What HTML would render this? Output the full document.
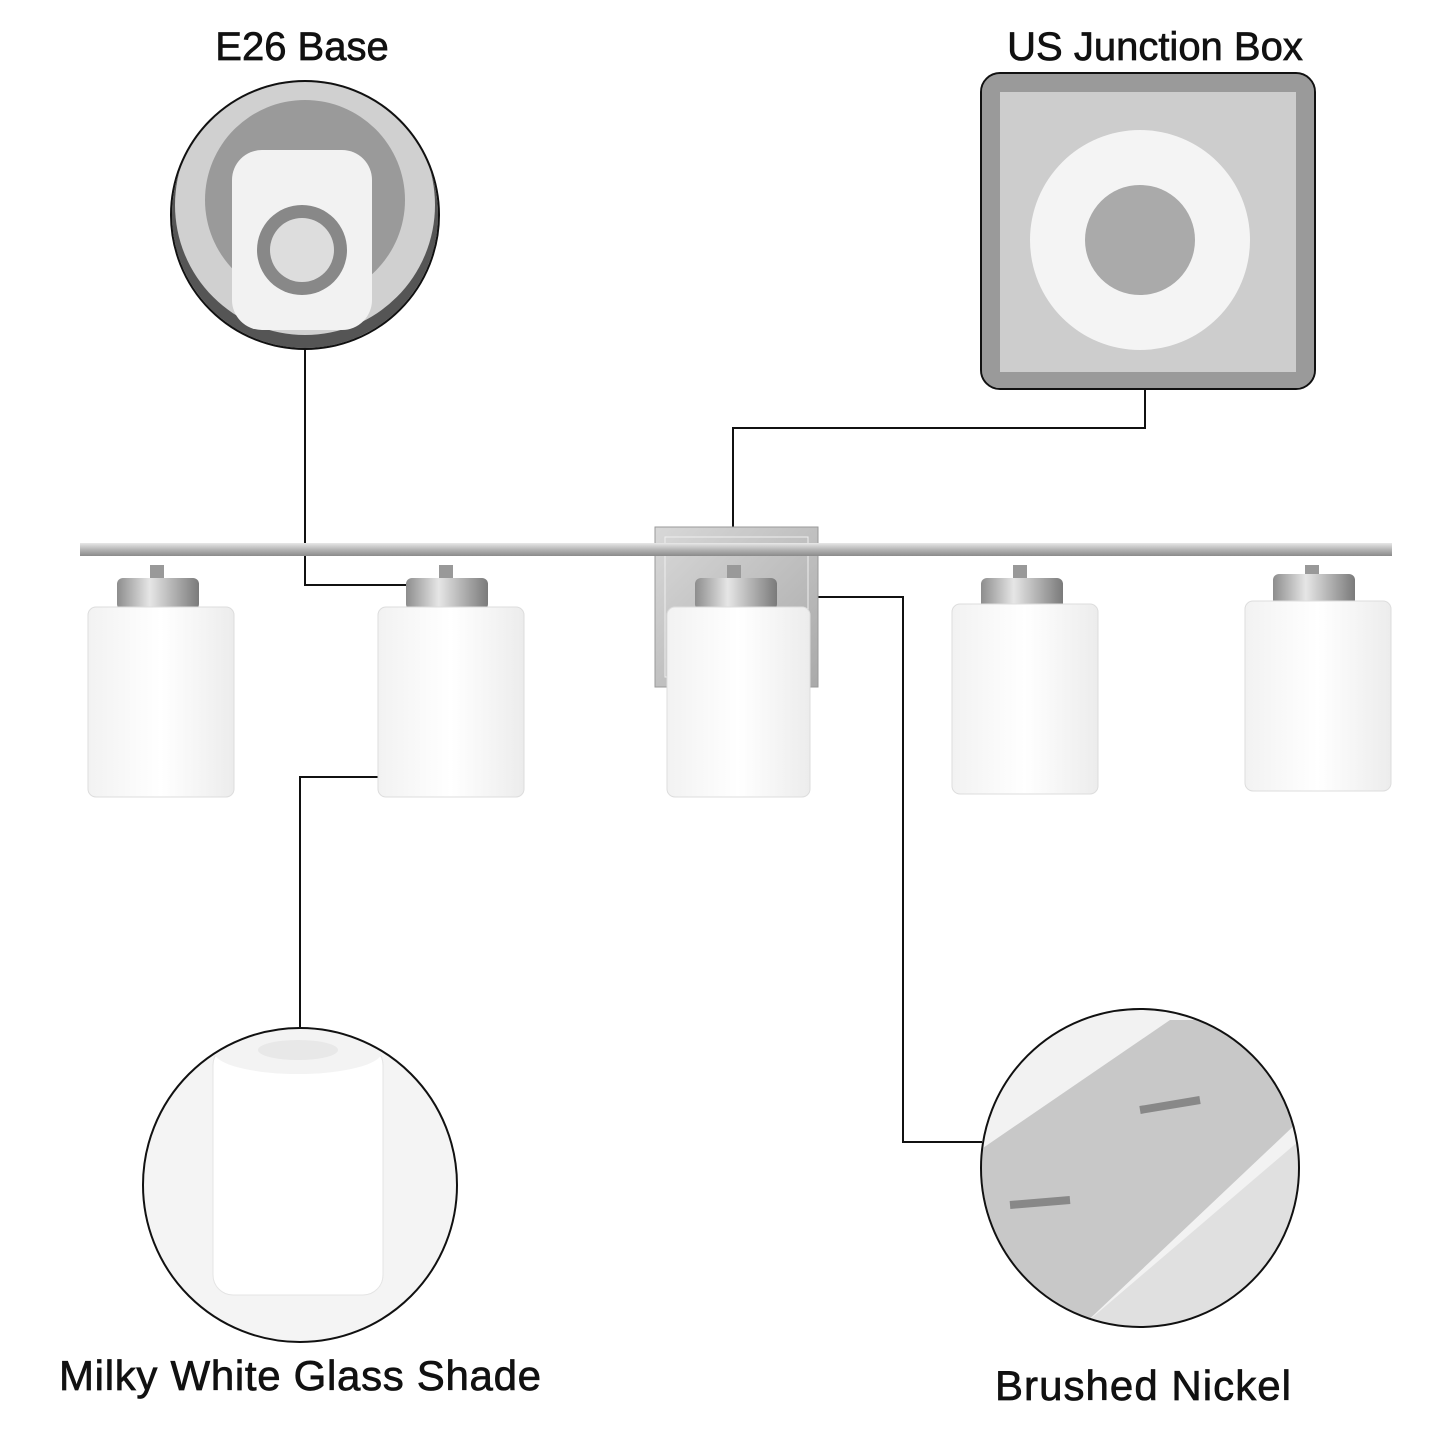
<!DOCTYPE html>
<html><head><meta charset="utf-8"><style>
html,body{margin:0;padding:0;background:#fff;}
svg{display:block}
text{font-family:"Liberation Sans",sans-serif;fill:#111;stroke:#111;stroke-width:0.7;}
</style></head><body>
<svg width="1445" height="1445" viewBox="0 0 1445 1445" xmlns="http://www.w3.org/2000/svg">
<defs>
<linearGradient id="metal" x1="0" y1="0" x2="0" y2="1">
<stop offset="0" stop-color="#e8e8e8"/><stop offset="0.5" stop-color="#b5b5b5"/><stop offset="1" stop-color="#8a8a8a"/></linearGradient>
<linearGradient id="metalh" x1="0" y1="0" x2="1" y2="0">
<stop offset="0" stop-color="#8d8d8d"/><stop offset="0.4" stop-color="#e6e6e6"/><stop offset="1" stop-color="#7a7a7a"/></linearGradient>
<linearGradient id="glass" x1="0" y1="0" x2="1" y2="0">
<stop offset="0" stop-color="#f2f2f2"/><stop offset="0.5" stop-color="#ffffff"/><stop offset="1" stop-color="#ececec"/></linearGradient>
<linearGradient id="plate" x1="0" y1="0" x2="1" y2="1">
<stop offset="0" stop-color="#d8d8d8"/><stop offset="1" stop-color="#a9a9a9"/></linearGradient>
<clipPath id="c1"><circle cx="305" cy="215" r="133"/></clipPath>
<clipPath id="c2"><circle cx="300" cy="1185" r="156"/></clipPath>
<clipPath id="c3"><circle cx="1140" cy="1168" r="158"/></clipPath>
<clipPath id="r2"><rect x="982" y="74" width="332" height="314" rx="18"/></clipPath>
</defs>

<text x="302" y="60" font-size="40" text-anchor="middle">E26 Base</text>
<text x="1155" y="60" font-size="40" text-anchor="middle">US Junction Box</text>
<text x="300" y="1390" font-size="42" text-anchor="middle" textLength="482">Milky White Glass Shade</text>
<text x="1143" y="1400" font-size="42" text-anchor="middle" textLength="296">Brushed Nickel</text>

<!-- E26 circle -->
<g clip-path="url(#c1)">
<rect x="170" y="80" width="270" height="270" fill="#555"/>
<circle cx="305" cy="205" r="130" fill="#d0d0d0"/>
<circle cx="305" cy="200" r="100" fill="#9a9a9a"/>
<rect x="232" y="150" width="140" height="180" rx="30" fill="#f2f2f2"/>
<circle cx="302" cy="250" r="45" fill="#888"/>
<circle cx="302" cy="250" r="32" fill="#ddd"/>
</g>
<circle cx="305" cy="215" r="134" fill="none" stroke="#111" stroke-width="2"/>

<!-- Junction box -->
<g clip-path="url(#r2)">
<rect x="982" y="74" width="332" height="314" fill="#9a9a9a"/>
<rect x="1000" y="92" width="296" height="280" fill="#cdcdcd"/>
<circle cx="1140" cy="240" r="110" fill="#f4f4f4"/>
<circle cx="1140" cy="240" r="55" fill="#aaa"/>
</g>
<rect x="981" y="73" width="334" height="316" rx="19" fill="none" stroke="#111" stroke-width="2"/>

<!-- connectors -->
<g stroke="#111" stroke-width="2" fill="none">
<polyline points="305,350 305,585 410,585"/>
<polyline points="1145,390 1145,428 733,428 733,527"/>
<polyline points="405,777 300,777 300,1027"/>
<polyline points="818,597 903,597 903,1142 982,1142"/>
</g>

<!-- backplate -->
<rect x="655" y="527" width="163" height="160" fill="url(#plate)" stroke="#999"/>
<rect x="665" y="537" width="143" height="140" fill="none" stroke="#eee"/>
<rect x="80" y="543" width="1312" height="13" fill="url(#metal)"/>

<g>
<rect x="150" y="565" width="14" height="15" fill="#999"/>
<rect x="117" y="578" width="82" height="32" rx="6" fill="url(#metalh)"/>
<rect x="88" y="607" width="146" height="190" rx="8" fill="url(#glass)" stroke="#ddd"/>
<rect x="439" y="565" width="14" height="15" fill="#999"/>
<rect x="406" y="578" width="82" height="32" rx="6" fill="url(#metalh)"/>
<rect x="378" y="607" width="146" height="190" rx="8" fill="url(#glass)" stroke="#ddd"/>
<rect x="727" y="565" width="14" height="15" fill="#999"/>
<rect x="695" y="578" width="82" height="32" rx="6" fill="url(#metalh)"/>
<rect x="667" y="607" width="143" height="190" rx="8" fill="url(#glass)" stroke="#ddd"/>
<rect x="1013" y="565" width="14" height="15" fill="#999"/>
<rect x="981" y="578" width="82" height="32" rx="6" fill="url(#metalh)"/>
<rect x="952" y="604" width="146" height="190" rx="8" fill="url(#glass)" stroke="#ddd"/>
<rect x="1305" y="565" width="14" height="15" fill="#999"/>
<rect x="1273" y="574" width="82" height="32" rx="6" fill="url(#metalh)"/>
<rect x="1245" y="601" width="146" height="190" rx="8" fill="url(#glass)" stroke="#ddd"/>
</g>

<!-- milky glass circle -->
<g clip-path="url(#c2)">
<rect x="140" y="1025" width="320" height="320" fill="#f4f4f4"/>
<rect x="213" y="1045" width="170" height="250" rx="20" fill="#ffffff" stroke="#e4e4e4"/>
<ellipse cx="298" cy="1052" rx="84" ry="22" fill="#f3f3f3"/>
<ellipse cx="298" cy="1050" rx="40" ry="10" fill="#e8e8e8"/>
</g>
<circle cx="300" cy="1185" r="157" fill="none" stroke="#111" stroke-width="2"/>

<!-- brushed nickel -->
<g clip-path="url(#c3)">
<rect x="980" y="1008" width="320" height="320" fill="#f2f2f2"/>
<polygon points="980,1150 1170,1020 1300,1020 1300,1120 1080,1328 980,1328" fill="#c8c8c8"/>
<polygon points="1080,1328 1300,1140 1300,1328" fill="#e0e0e0"/>
<line x1="1140" y1="1110" x2="1200" y2="1100" stroke="#888" stroke-width="8"/>
<line x1="1010" y1="1205" x2="1070" y2="1200" stroke="#888" stroke-width="8"/>
</g>
<circle cx="1140" cy="1168" r="159" fill="none" stroke="#111" stroke-width="2"/>
</svg>
</body></html>
